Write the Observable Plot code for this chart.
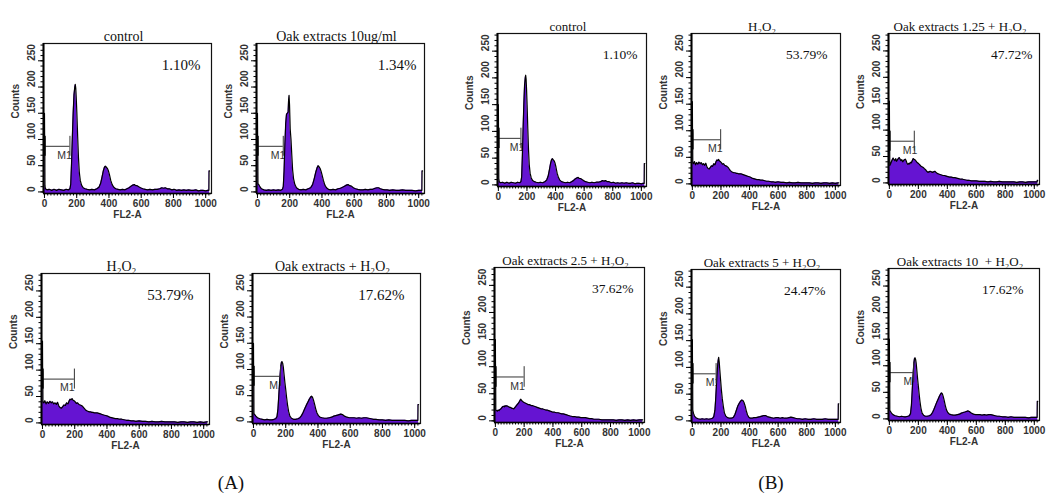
<!DOCTYPE html>
<html><head><meta charset="utf-8">
<script src="https://cdn.jsdelivr.net/npm/d3@7"></script>
<script src="https://cdn.jsdelivr.net/npm/@observablehq/plot@0.6"></script>
<style>
body{margin:0;background:#fff;}
#fig{position:relative;width:1046px;height:495px;overflow:hidden;background:#fff;}
#fig svg{position:absolute;}
.lab{position:absolute;font-family:"Liberation Serif",serif;font-size:19px;color:#111;transform:translate(-50%,-50%);}
</style>
</head><body><div id="fig"></div>
<script>
// ---- data: histogram counts per FL2-A channel [channel, count] ----
const controlHist = [[0,150],[1,105],[2,100],[3,12],[6,6],[15,4],[30,5],[45,3],[60,5],[75,3],[90,5],[105,4],[120,3],[135,5],[150,4],[158,6],[163,15],[168,55],[173,105],[178,150],[183,185],[188,200],[191,205],[194,198],[197,180],[201,150],[206,105],[211,65],[216,38],[222,22],[230,13],[240,8],[252,6],[265,5],[280,4],[295,5],[310,4],[325,6],[338,9],[348,16],[357,28],[365,40],[372,47],[378,49],[384,47],[390,45],[396,41],[403,33],[411,22],[420,14],[430,9],[442,6],[456,5],[470,4],[485,5],[500,4],[512,6],[525,8],[537,11],[548,13],[558,14],[566,12],[575,12],[585,10],[596,8],[610,6],[625,5],[640,4],[655,5],[670,4],[685,5],[700,5],[715,6],[728,8],[740,7],[750,8],[762,6],[775,6],[790,4],[805,5],[820,3],[835,4],[850,3],[865,4],[880,3],[895,4],[910,3],[925,3],[940,4],[955,2],[970,3],[985,3],[1000,2],[1012,3],[1020,3],[1021,40],[1024,40]];
const oak10Hist = [[0,150],[1,100],[2,95],[3,16],[8,14],[15,10],[25,6],[40,4],[55,3],[70,4],[85,3],[100,4],[115,3],[130,4],[145,3],[155,5],[160,10],[165,40],[170,90],[175,130],[180,148],[185,150],[190,152],[193,175],[196,184],[199,165],[203,120],[208,100],[213,70],[218,42],[224,25],[232,14],[242,8],[255,5],[270,4],[285,5],[300,4],[315,6],[330,8],[342,14],[352,25],[362,38],[370,46],[376,50],[382,48],[388,45],[394,40],[401,32],[409,22],[418,13],[428,8],[440,5],[455,4],[470,5],[485,4],[500,6],[515,7],[528,9],[540,11],[552,13],[562,14],[572,12],[583,11],[595,8],[608,6],[622,5],[638,4],[655,4],[670,5],[685,4],[700,5],[715,5],[730,7],[742,8],[752,8],[762,6],[775,5],[790,4],[805,4],[820,3],[840,4],[860,3],[880,3],[900,4],[920,3],[940,3],[960,3],[980,2],[1000,3],[1020,3],[1021,40],[1024,40]];
const h2o2Hist = [[0,155],[1,100],[2,95],[3,40],[8,38],[15,42],[22,36],[30,40],[38,37],[46,41],[55,38],[62,40],[70,36],[78,38],[86,35],[94,39],[102,32],[110,29],[118,28],[126,31],[134,34],[142,33],[150,38],[158,36],[166,42],[172,45],[178,44],[184,46],[190,43],[196,42],[203,40],[210,37],[218,38],[226,35],[234,34],[242,33],[250,31],[258,28],[266,25],[274,23],[282,22],[290,21],[298,21],[306,20],[314,20],[322,19],[330,19],[340,19],[350,18],[360,17],[370,16],[380,15],[392,14],[404,13],[416,11],[428,10],[440,9],[452,8],[465,8],[478,7],[492,7],[506,6],[520,5],[535,5],[550,4],[565,4],[580,3],[600,4],[620,3],[640,3],[660,2],[680,3],[700,2],[720,2],[740,3],[760,2],[780,2],[800,2],[820,2],[840,1],[860,2],[880,2],[900,1],[920,2],[940,2],[960,1],[980,2],[1000,1],[1020,2],[1024,2]];
const oak125Hist = [[0,155],[1,100],[2,95],[3,33],[8,36],[14,40],[20,44],[26,47],[32,44],[38,42],[44,46],[50,41],[56,44],[62,46],[68,48],[74,45],[80,42],[86,44],[92,40],[98,42],[104,44],[110,45],[116,42],[122,37],[128,35],[134,37],[140,36],[146,39],[152,38],[158,42],[164,46],[170,45],[176,44],[182,42],[188,40],[194,38],[200,37],[207,35],[214,33],[221,31],[228,30],[235,29],[242,27],[250,25],[258,22],[266,20],[274,21],[282,22],[290,21],[298,20],[306,21],[314,22],[322,20],[330,18],[340,17],[350,16],[360,15],[370,14],[380,14],[392,13],[404,12],[416,11],[428,11],[440,10],[452,10],[465,9],[478,8],[492,7],[506,7],[520,6],[535,5],[550,5],[565,4],[580,4],[600,4],[620,3],[640,3],[660,3],[680,2],[700,3],[720,2],[740,2],[760,3],[780,2],[800,2],[820,2],[840,2],[860,2],[880,1],[900,2],[920,2],[940,1],[960,2],[980,2],[1000,2],[1020,2],[1021,5],[1024,5]];
const oak25Hist = [[0,150],[1,100],[2,95],[3,20],[8,19],[14,18],[20,20],[26,19],[32,21],[38,22],[44,24],[50,26],[56,27],[62,26],[68,28],[74,27],[80,28],[86,27],[92,26],[98,25],[104,25],[110,24],[116,23],[122,23],[128,22],[134,24],[140,26],[146,28],[152,30],[158,32],[164,34],[170,37],[176,40],[182,38],[188,36],[194,35],[200,34],[207,33],[214,32],[221,31],[228,30],[236,30],[244,29],[252,28],[260,28],[270,27],[280,26],[290,25],[300,24],[310,23],[320,22],[330,22],[340,21],[350,20],[360,20],[370,19],[380,18],[390,17],[400,16],[412,16],[424,15],[436,15],[448,14],[460,13],[472,13],[484,12],[496,11],[508,10],[520,9],[535,8],[550,8],[565,7],[580,7],[595,6],[610,6],[625,6],[640,5],[655,4],[670,4],[685,3],[700,3],[720,3],[740,2],[760,2],[780,2],[800,2],[820,2],[840,1],[860,2],[880,2],[900,1],[920,2],[940,1],[960,2],[980,1],[1000,2],[1020,2],[1024,2]];
const oak5Hist = [[0,152],[1,100],[2,95],[3,20],[8,14],[15,9],[25,6],[40,4],[55,3],[70,4],[85,3],[100,4],[115,3],[130,4],[142,5],[150,8],[158,20],[164,45],[170,75],[175,98],[180,112],[184,119],[188,110],[192,95],[197,78],[203,58],[209,42],[216,28],[224,15],[234,9],[246,6],[260,5],[275,5],[288,7],[298,12],[308,20],[318,28],[328,33],[338,37],[346,39],[354,38],[362,34],[370,27],[378,18],[386,11],[395,7],[405,5],[418,5],[430,6],[445,6],[460,7],[475,8],[488,9],[500,10],[512,10],[524,8],[538,7],[552,6],[568,5],[585,6],[600,6],[615,5],[630,6],[645,5],[660,5],[675,6],[690,7],[705,6],[720,5],[735,4],[750,4],[770,3],[790,4],[810,3],[830,3],[850,4],[870,3],[890,3],[910,3],[930,4],[950,3],[970,3],[990,3],[1010,3],[1020,3],[1021,32],[1024,32]];
const oakH2o2Hist = [[0,150],[1,100],[2,95],[3,16],[8,14],[15,11],[25,8],[40,6],[55,5],[70,4],[85,5],[100,4],[115,4],[128,5],[138,6],[146,10],[152,25],[158,55],[164,85],[169,105],[173,113],[177,115],[181,112],[185,105],[190,90],[195,75],[200,62],[205,48],[211,33],[218,20],[226,11],[236,7],[248,5],[262,5],[276,6],[288,8],[298,12],[308,18],[318,25],[328,32],[338,38],[346,43],[354,47],[360,49],[366,47],[372,42],[379,34],[386,25],[394,17],[403,12],[414,9],[426,8],[440,7],[455,7],[470,8],[485,9],[498,11],[510,12],[522,13],[532,14],[542,15],[552,14],[565,11],[580,9],[595,8],[610,8],[625,8],[640,7],[655,8],[670,7],[685,8],[700,8],[715,7],[730,6],[745,5],[760,5],[780,4],[800,4],[820,3],[840,4],[860,3],[880,3],[900,3],[920,3],[940,3],[960,2],[980,3],[1000,3],[1015,3],[1020,3],[1021,33],[1024,33]];

// M1 gate per sample: start/end channel, display count level, label start channel
const controlGate = {start:0, end:158, level:87, labelX:80};
const oak10Gate = {start:0, end:160, level:87, labelX:82};
const h2o2Gate = {start:0, end:198, level:83, labelX:109};
const oakH2o2Gate = {start:0, end:168, level:87, labelX:98};
const oak125Gate = {start:0, end:172, level:79, labelX:93};
const oak25Gate = {start:0, end:200, level:81, labelX:104};
const oak5Gate = {start:0, end:166, level:88, labelX:94};

// titles & percentages
const titles = ["control","Oak extracts 10ug/ml","H₂O₂","Oak extracts + H₂O₂","control","H₂O₂","Oak extracts 1.25 + H₂O₂","Oak extracts 2.5 + H₂O₂","Oak extracts 5 + H₂O₂","Oak extracts 10  + H₂O₂"];
const percents = ["1.10%","1.34%","53.79%","17.62%","1.10%","53.79%","47.72%","37.62%","24.47%","17.62%"];
const hists = [controlHist, oak10Hist, h2o2Hist, oakH2o2Hist, controlHist, h2o2Hist, oak125Hist, oak25Hist, oak5Hist, oakH2o2Hist];
const gates = [controlGate, oak10Gate, h2o2Gate, oakH2o2Gate, controlGate, h2o2Gate, oak125Gate, oak25Gate, oak5Gate, oakH2o2Gate];
const xTicks = [0,200,400,600,800,1000];
const yTicks = [0,50,100,150,200,250];
const groupLabels = ["(A)","(B)"];

// ---- layout (pixels) ----
const layout = [
  {L:43,T:43,W:168,H:150,pr:11,ts:14,ps:15},
  {L:256,T:43,W:168,H:150,pr:8,ts:14,ps:15},
  {L:41,T:273,W:168,H:151,pr:16,ts:14,ps:15},
  {L:252,T:273,W:168,H:150,pr:16,ts:14,ps:15},
  {L:497,T:33,W:149,H:153,pr:9,ts:13,ps:13.5},
  {L:691,T:33,W:149,H:152,pr:13,ts:13,ps:13.5},
  {L:888,T:33,W:151,H:151,pr:7,ts:13,ps:13.5},
  {L:494,T:267,W:150,H:155,pr:11,ts:13,ps:13.5},
  {L:691,T:269,W:149,H:153,pr:15,ts:13,ps:13.5},
  {L:888,T:268,W:151,H:152,pr:16,ts:13,ps:13.5}
];
const groupPos = [{x:231,y:483},{x:771,y:483}];

const purple = "#6514d2";
const xDomain = [-6, 1036], yDomain = [-3, 283];
const serif = "'Liberation Serif', 'Times New Roman', serif";
const sans = "'Liberation Sans', Arial, sans-serif";
const fig = document.getElementById("fig");

hists.forEach((hist, i) => {
  const g = gates[i], lay = layout[i];
  const mL = 36, mT = 24, mR = 8, mB = 32;
  const chart = Plot.plot({
    width: lay.W + mL + mR, height: lay.H + mT + mB,
    marginLeft: mL, marginTop: mT, marginRight: mR, marginBottom: mB,
    style: {overflow: "visible", background: "transparent", fontFamily: sans},
    x: {domain: xDomain}, y: {domain: yDomain},
    marks: [
      Plot.text([g], {x: d => d.labelX, y: d => d.level - 17, text: () => "M1", textAnchor: "start", fontSize: 10.5, fontFamily: sans, fill: "#333"}),
      Plot.areaY(hist, {x: d => d[0], y1: yDomain[0], y2: d => d[1], fill: purple}),
      Plot.lineY(hist, {x: d => d[0], y: d => d[1], stroke: "#000", strokeWidth: 1.2}),
      Plot.ruleY([g], {y: d => d.level, x1: d => d.start, x2: d => d.end, stroke: "#333", strokeWidth: 1}),
      Plot.ruleX([g], {x: d => d.end, y1: d => d.level - 19, y2: d => d.level + 19, stroke: "#333", strokeWidth: 1}),
      Plot.ruleX([g], {x: d => d.start, y1: d => d.level - 19, y2: d => d.level + 19, stroke: "#000", strokeWidth: 2.5}),
      Plot.frame({stroke: "#111", strokeWidth: 1.2}),
      Plot.ruleX([xDomain[0]], {stroke: "#000", strokeWidth: 2}),
      Plot.ruleY([yDomain[0]], {stroke: "#000", strokeWidth: 1.6}),
      Plot.axisY(yTicks, {tickSize: 5, tickFormat: () => "", label: null, stroke: "#000"}),
      Plot.axisY(d3.range(0, 281, 10), {tickSize: 2.5, tickFormat: () => "", label: null, stroke: "#000"}),
      Plot.axisX(xTicks, {tickSize: 5, tickFormat: () => "", label: null, stroke: "#000"}),
      Plot.axisX(d3.range(0, 1025, 20), {tickSize: 2.5, tickFormat: () => "", label: null, stroke: "#000"}),
      Plot.text(yTicks, {y: d => d, text: d => String(d), frameAnchor: "left", dx: -12, rotate: -90, fontSize: 10, fontWeight: "bold", fill: "#333"}),
      Plot.text(xTicks, {x: d => d, text: d => String(d), frameAnchor: "bottom", dy: 13, fontSize: 10, fontWeight: "bold", fill: "#333"}),
      Plot.text(["Counts"], {text: d => d, frameAnchor: "left", dx: -28, rotate: -90, fontSize: 10, fontWeight: "bold", fill: "#333"}),
      Plot.text(["FL2-A"], {text: d => d, frameAnchor: "bottom", dy: 24, fontSize: 10, fontWeight: "bold", fill: "#333"}),
      Plot.text([titles[i]], {text: d => d, frameAnchor: "top", dy: -12, dx: -4, fontSize: lay.ts, fontFamily: serif, fill: "#111"}),
      Plot.text([percents[i]], {text: d => d, frameAnchor: "top-right", textAnchor: "end", dx: -lay.pr, dy: 16, fontSize: lay.ps, fontFamily: serif, fill: "#111"})
    ]
  });
  chart.style.left = (lay.L - mL) + "px";
  chart.style.top = (lay.T - mT) + "px";
  fig.appendChild(chart);
});

groupLabels.forEach((t, i) => {
  const d = document.createElement("div");
  d.className = "lab";
  d.textContent = t;
  d.style.left = groupPos[i].x + "px";
  d.style.top = groupPos[i].y + "px";
  fig.appendChild(d);
});
</script>
</body></html>
